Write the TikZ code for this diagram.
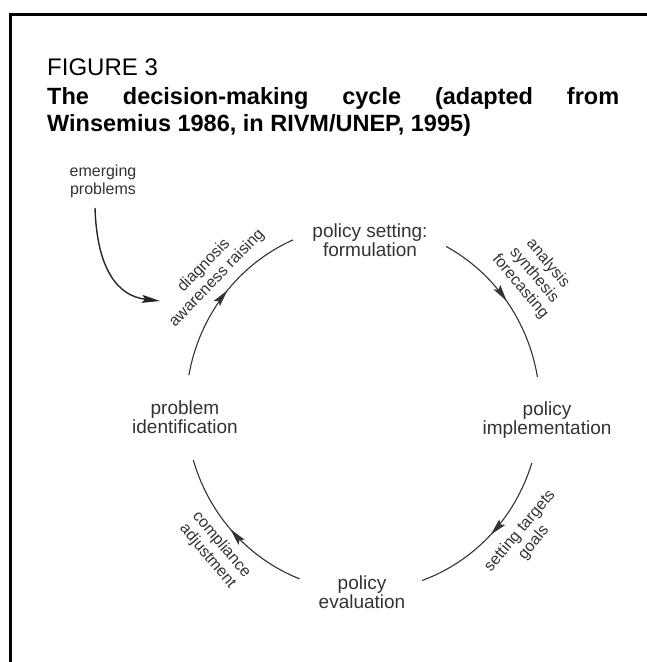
\documentclass[tikz,border=0pt]{standalone}
\usepackage{fontspec}
\setmainfont{Liberation Sans}
\usetikzlibrary{arrows.meta,decorations.markings}
\begin{document}
\begin{tikzpicture}[x=1pt,y=1pt,
  lbl/.style={font=\fontsize{19}{19}\selectfont, align=center, text=black!80, inner sep=0pt},
  arclbl/.style={font=\fontsize{16}{18}\selectfont, align=center, text=black!80, inner sep=0pt},
  cyctip/.tip={Stealth[length=17pt,width=8pt,inset=3pt]},
  cyc/.style={line width=1.1pt, draw=black!80, postaction={decorate},
    decoration={markings, mark=at position #1 with {\arrow{cyctip}}}},
]
\useasboundingbox (0,0) rectangle (647,662);
% open frame: top and left rules
\draw[line width=3pt] (10,0) -- (10,647) -- (647,647);

% caption
\node[anchor=base west, inner sep=0pt, font=\fontsize{24}{24}\selectfont] (fig) at (47,586) {FIGURE 3};
\node[anchor=base west, inner sep=0pt, font=\bfseries\fontsize{23.5}{27}\selectfont] (cap1) at (47,557)
  {\makebox[572pt][s]{The decision-making cycle (adapted from}};
\node[anchor=base west, inner sep=0pt, font=\bfseries\fontsize{23.5}{27}\selectfont] (cap2) at (47,530)
  {Winsemius 1986, in RIVM/UNEP, 1995)};

% cycle stages
\node[lbl] (form) at (370,422) {policy setting:\\formulation};
\node[lbl] (impl) at (547,242) {policy\\implementation};
\node[lbl] (eval) at (362,70) {policy\\evaluation};
\node[lbl] (prob) at (185,245) {problem\\identification};

% arc end points on the cycle ellipse
\coordinate (c) at (363,254);
\path (c) ++(169.6:177 and 183) coordinate (a1);
\path (c) ++(62:177 and 183) coordinate (a2);
\path (c) ++(-17.5:177 and 183) coordinate (a3);
\path (c) ++(249:177 and 183) coordinate (a4);

\draw[cyc=0.53] (a1) arc[start angle=169.6, end angle=113.3, x radius=177, y radius=183];
\draw[cyc=0.5] (a2) arc[start angle=62, end angle=9.8, x radius=177, y radius=183];
\draw[cyc=0.5] (a3) arc[start angle=-17.5, end angle=-70.5, x radius=177, y radius=183];
\draw[cyc=0.52] (a4) arc[start angle=249, end angle=196.5, x radius=177, y radius=183];

% activity labels along the arcs
\node[arclbl, rotate=46] (diag) at (210.5,390) {diagnosis\\awareness raising};
\node[arclbl, rotate=-50] (anal) at (534,387) {analysis\\synthesis\\forecasting};
\node[arclbl, rotate=50] (targ) at (527,125) {setting targets\\goals};
\node[arclbl, rotate=-50] (comp) at (214.5,111.5) {compliance\\adjustment};

% emerging problems feeding into the cycle
\node[arclbl] (emer) at (103,481) {emerging\\problems};
\coordinate (emstart) at (95,454);
\coordinate (emtip) at (160,361);
\draw[line width=1.4pt, draw=black!85, -{Stealth[length=18pt,width=8pt,inset=3pt]}]
  (emstart) .. controls (97,392) and (118,366) .. (emtip);
\end{tikzpicture}
\end{document}
